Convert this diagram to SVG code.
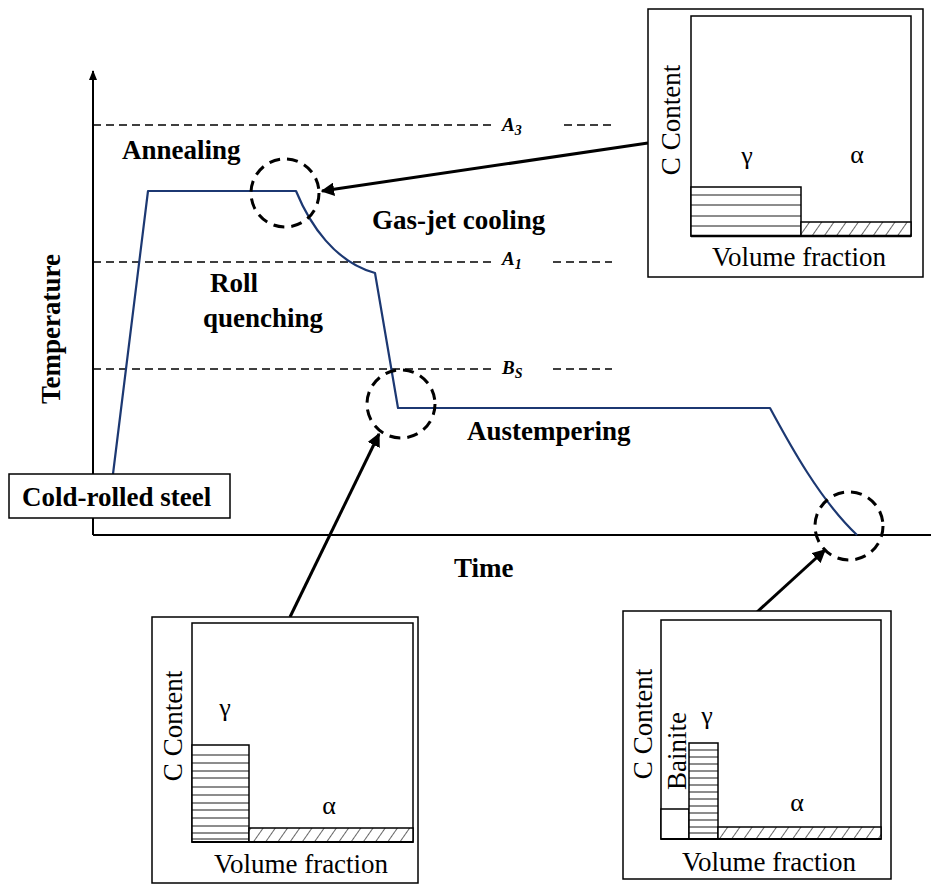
<svg xmlns="http://www.w3.org/2000/svg" width="931" height="884" viewBox="0 0 931 884">
<style>
text{font-family:'Liberation Serif',serif;fill:#000}
.lbl{font-weight:bold;font-size:27px}
.sym{font-style:italic;font-weight:bold;font-size:19px}
.sub{font-size:14px}
.reg{font-size:27px;font-weight:normal}
.gr{font-size:26px;font-weight:normal}
.axis{stroke:#000;stroke-width:2;fill:none}
.lvl{stroke:#000;stroke-width:1.6;stroke-dasharray:8 5;fill:none}
.ring{stroke:#000;stroke-width:3;stroke-dasharray:11 7;fill:none}
.curve{stroke:#1c3872;stroke-width:2.2;fill:none;stroke-linejoin:round}
.arr{stroke:#000;stroke-width:3;fill:none}
.box{stroke:#000;stroke-width:1.5;fill:#fff}
.frame{stroke:#000;stroke-width:1.5;fill:none}
.bar{stroke:#000;stroke-width:1.5;fill:#fff}
.hatch{stroke:#000;stroke-width:0.9;fill:none}
</style>
<defs>
<marker id="ah" viewBox="0 0 10 10" refX="9" refY="5" markerWidth="4.5" markerHeight="4.5" orient="auto" markerUnits="strokeWidth">
<path d="M0,0 L10,5 L0,10 z" fill="#000"/>
</marker>
<marker id="ax" viewBox="0 0 10 10" refX="9" refY="5" markerWidth="5" markerHeight="5" orient="auto" markerUnits="strokeWidth">
<path d="M0,1 L10,5 L0,9 z" fill="#000"/>
</marker>
<pattern id="diag" patternUnits="userSpaceOnUse" width="10" height="10" patternTransform="rotate(35)">
<rect width="10" height="10" fill="#fff"/>
<line x1="0" y1="0" x2="0" y2="10" stroke="#000" stroke-width="1.2"/>
</pattern>
</defs>
<rect width="931" height="884" fill="#fff"/>

<g id="axes">
<line class="axis" x1="93" y1="535" x2="93" y2="71" marker-end="url(#ax)"/>
<line class="axis" x1="93" y1="535" x2="931" y2="535"/>
<text class="lbl" transform="translate(60,329) rotate(-90)" text-anchor="middle">Temperature</text>
<text class="lbl" x="454" y="577">Time</text>
</g>

<g id="levels">
<path class="lvl" d="M93,125 H492 M564,125 H612"/>
<text class="sym" x="502" y="131">A<tspan class="sub" dy="4">3</tspan></text>
<path class="lvl" d="M93,262 H492 M553,262 H612"/>
<text class="sym" x="502" y="265">A<tspan class="sub" dy="4">1</tspan></text>
<path class="lvl" d="M93,369 H492 M553,369 H612"/>
<text class="sym" x="502" y="374">B<tspan class="sub" dy="4">S</tspan></text>
</g>

<g id="process-curve">
<path class="curve" d="M113,474 L148,191 L296,191 C310,225 335,262 375,273 L398,408 L770,408 C790,445 820,500 857,535"/>
</g>

<g id="labels">
<text class="lbl" x="122" y="159">Annealing</text>
<text class="lbl" x="372" y="229">Gas-jet cooling</text>
<text class="lbl" x="210" y="292">Roll</text>
<text class="lbl" x="203" y="327">quenching</text>
<text class="lbl" x="467" y="440">Austempering</text>
</g>

<g id="cold-rolled-steel">
<rect class="box" x="9" y="474" width="221" height="44"/>
<text class="lbl" x="22" y="506">Cold-rolled steel</text>
</g>

<g id="rings">
<circle class="ring" cx="285" cy="193" r="34"/>
<circle class="ring" cx="401" cy="404" r="34"/>
<circle class="ring" cx="849" cy="526" r="34"/>
</g>

<g id="connectors">
<line class="arr" x1="648" y1="143" x2="322" y2="191" marker-end="url(#ah)"/>
<line class="arr" x1="290" y1="617" x2="379" y2="434" marker-end="url(#ah)"/>
<line class="arr" x1="757" y1="612" x2="825" y2="550" marker-end="url(#ah)"/>
</g>

<g id="inset-gasjet">
<rect class="box" x="648" y="9" width="275" height="268"/>
<rect class="frame" x="691" y="16" width="220" height="220"/>
<rect class="bar" x="691" y="187" width="110" height="49"/>
<path class="hatch" d="M691,195H801 M691,205H801 M691,216H801 M691,226H801"/>
<rect x="801" y="222" width="110" height="14" fill="url(#diag)" stroke="#000" stroke-width="1.5"/>
<line x1="691" y1="236" x2="911" y2="236" stroke="#000" stroke-width="2.5"/>
<text class="gr" x="747" y="164" text-anchor="middle">γ</text>
<text class="gr" x="857" y="163" text-anchor="middle">α</text>
<text class="reg" transform="translate(680,120) rotate(-90)" text-anchor="middle">C Content</text>
<text class="reg" x="799" y="266" text-anchor="middle">Volume fraction</text>
</g>

<g id="inset-quench">
<rect class="box" x="152" y="617" width="266" height="266"/>
<rect class="frame" x="192" y="623" width="221" height="219"/>
<rect class="bar" x="192" y="745" width="57" height="97"/>
<path class="hatch" d="M192,755H249 M192,763H249 M192,771H249 M192,778H249 M192,787H249 M192,795H249 M192,803H249 M192,810H249 M192,818H249 M192,826H249 M192,833H249 M192,839H249"/>
<rect x="249" y="828" width="164" height="14" fill="url(#diag)" stroke="#000" stroke-width="1.5"/>
<line x1="192" y1="842" x2="413" y2="842" stroke="#000" stroke-width="2"/>
<text class="gr" x="225" y="716" text-anchor="middle">γ</text>
<text class="gr" x="329" y="814" text-anchor="middle">α</text>
<text class="reg" transform="translate(182,726) rotate(-90)" text-anchor="middle">C Content</text>
<text class="reg" x="301" y="873" text-anchor="middle">Volume fraction</text>
</g>

<g id="inset-austemper">
<rect class="box" x="623" y="611" width="268" height="268"/>
<rect class="frame" x="661" y="620" width="220" height="219"/>
<rect class="bar" x="661" y="809" width="28" height="30"/>
<rect class="bar" x="689" y="743" width="29" height="96"/>
<path class="hatch" d="M689,750H718 M689,757H718 M689,764H718 M689,771H718 M689,778H718 M689,785H718 M689,792H718 M689,799H718 M689,806H718 M689,813H718 M689,820H718 M689,827H718 M689,833H718"/>
<rect x="718" y="827" width="163" height="12" fill="url(#diag)" stroke="#000" stroke-width="1.5"/>
<line x1="661" y1="839" x2="881" y2="839" stroke="#000" stroke-width="2"/>
<text class="reg" transform="translate(686,751) rotate(-90)" text-anchor="middle">Bainite</text>
<text class="gr" x="707" y="724" text-anchor="middle">γ</text>
<text class="gr" x="797" y="811" text-anchor="middle">α</text>
<text class="reg" transform="translate(652,724) rotate(-90)" text-anchor="middle">C Content</text>
<text class="reg" x="769" y="871" text-anchor="middle">Volume fraction</text>
</g>
</svg>
